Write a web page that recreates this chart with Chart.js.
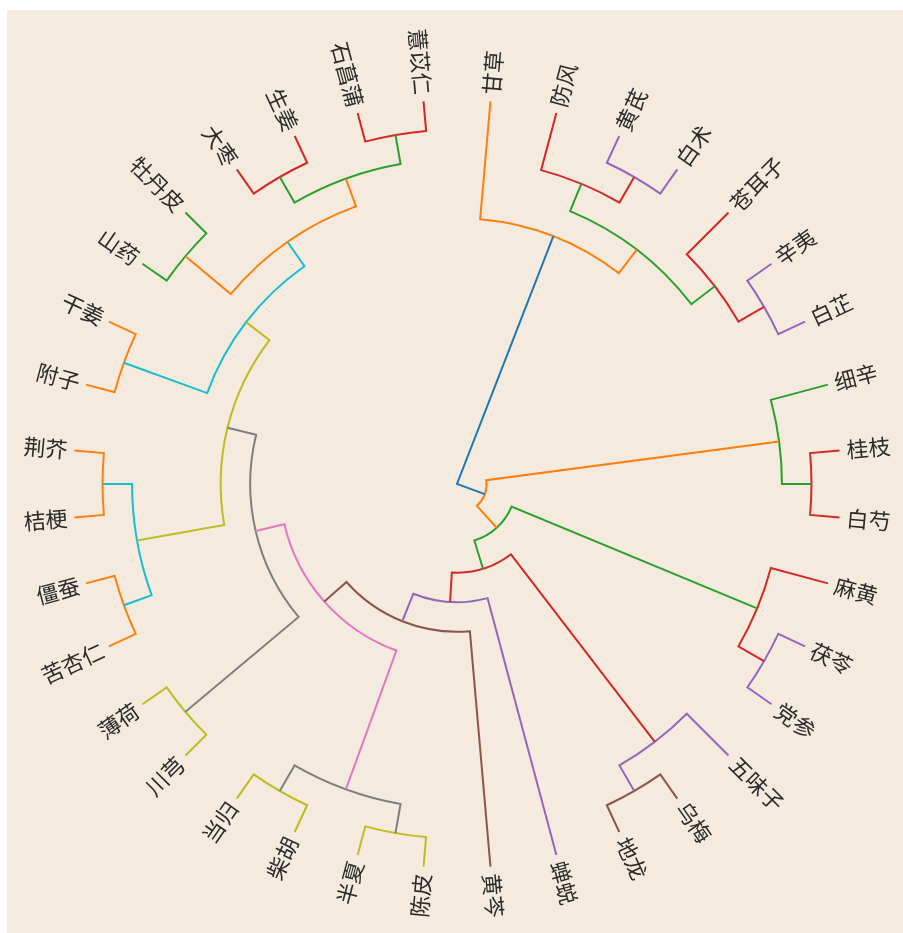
<!DOCTYPE html>
<html>
<head>
<meta charset="utf-8">
<script src="https://cdn.jsdelivr.net/npm/chart.js@4.4.1/dist/chart.umd.min.js"></script>
<style>
  html, body { margin: 0; padding: 0; background: #ffffff; }
  #wrap { position: relative; width: 903px; height: 933px; }
</style>
</head>
<body>
<div id="wrap"><canvas id="dendro"></canvas></div>
<script>
// Leaf order, clockwise from the top
const leafNames = ['甘草','防风','黄芪','白术','苍耳子','辛夷','白芷','细辛','桂枝','白芍',
  '麻黄','茯苓','党参','五味子','乌梅','地龙','蝉蜕','黄芩','陈皮','半夏','柴胡','当归',
  '川芎','薄荷','苦杏仁','僵蚕','桔梗','荆芥','附子','干姜','山药','牡丹皮','大枣','生姜',
  '石菖蒲','薏苡仁'];

// Merge k creates node (leafNames.length + k) from mergeLeft[k] and mergeRight[k]
const mergeLeft  = [2, 5, 8, 11, 14, 18, 20, 22, 24, 26, 28, 30, 32, 34,
                    1, 4, 7, 10, 13, 41, 44, 48,
                    50, 47,
                    0, 46,
                    56, 43, 55, 17, 16, 54, 53, 52, 60];
const mergeRight = [3, 6, 9, 12, 15, 19, 21, 23, 25, 27, 29, 31, 33, 35,
                    36, 37, 38, 39, 40, 42, 45, 49,
                    51, 57,
                    58, 59,
                    61, 62, 63, 64, 65, 66, 67, 68, 69];
const mergeHeight = [1, 1, 1, 1, 1, 1, 1, 1, 1, 1, 1, 1, 1, 1,
                     2, 2, 2, 2, 2, 2, 2, 2,
                     3, 3,
                     4, 4,
                     5, 6, 7, 8, 9, 10, 11, 12, 13];

// Branch colours by depth below the root
const branchColors = ['#1f77b4','#ff7f0e','#2ca02c','#d62728','#9467bd',
                      '#8c564b','#e377c2','#7f7f7f','#bcbd22','#17becf'];

const nLeaves = leafNames.length;
const nNodes = nLeaves + mergeLeft.length;

// angular position (in leaf-index units) and height of every node
const nodePos = new Array(nNodes).fill(0);
const nodeHeight = new Array(nNodes).fill(0);
for (let i = 0; i < nLeaves; i++) nodePos[i] = i;
mergeLeft.forEach((l, k) => {
  const id = nLeaves + k;
  nodePos[id] = (nodePos[l] + nodePos[mergeRight[k]]) / 2;
  nodeHeight[id] = mergeHeight[k];
});
// depth from the root, used for colouring
const nodeDepth = new Array(nNodes).fill(0);
for (let k = mergeLeft.length - 1; k >= 0; k--) {
  const d = nodeDepth[nLeaves + k] + 1;
  nodeDepth[mergeLeft[k]] = d;
  nodeDepth[mergeRight[k]] = d;
}
function colorForDepth(d) {
  return d === 0 ? branchColors[0] : branchColors[1 + (d - 1) % 9];
}

const backgroundPlugin = {
  id: 'paper',
  beforeDraw(chart) {
    const ctx = chart.ctx;
    ctx.save();
    ctx.fillStyle = '#ffffff';
    ctx.fillRect(0, 0, chart.width, chart.height);
    ctx.fillStyle = '#f4ebde';
    ctx.fillRect(7, 10, chart.width - 7, chart.height - 10);
    ctx.restore();
  }
};

const treePlugin = {
  id: 'circularTree',
  afterDatasetsDraw(chart) {
    const s = chart.scales.r;
    const ctx = chart.ctx;
    ctx.save();
    ctx.lineWidth = 2;
    ctx.lineJoin = 'miter';
    ctx.lineCap = 'butt';
    mergeLeft.forEach((l, k) => {
      const id = nLeaves + k;
      const r = mergeRight[k];
      const rNode = s.getDistanceFromCenterForValue(nodeHeight[id]);
      const rL = s.getDistanceFromCenterForValue(nodeHeight[l]);
      const rR = s.getDistanceFromCenterForValue(nodeHeight[r]);
      const outerL = s.getPointPosition(nodePos[l], rL);
      const innerL = s.getPointPosition(nodePos[l], rNode);
      const outerR = s.getPointPosition(nodePos[r], rR);
      const aL = s.getIndexAngle(nodePos[l]) - Math.PI / 2;
      const aR = s.getIndexAngle(nodePos[r]) - Math.PI / 2;
      ctx.strokeStyle = colorForDepth(nodeDepth[id]);
      ctx.beginPath();
      ctx.moveTo(outerL.x, outerL.y);
      ctx.lineTo(innerL.x, innerL.y);
      if (rNode > 0) ctx.arc(s.xCenter, s.yCenter, rNode, aL, aR, false);
      ctx.lineTo(outerR.x, outerR.y);
      ctx.stroke();
    });

    // leaf names, written along the radius
    ctx.font = '22px "Noto Sans CJK SC", sans-serif';
    ctx.fillStyle = '#2b2b2b';
    ctx.textBaseline = 'middle';
    leafNames.forEach((name, i) => {
      const theta = s.getIndexAngle(i);
      const p = s.getPointPosition(i, s.drawingArea + 7);
      ctx.save();
      ctx.translate(p.x, p.y);
      if (theta < Math.PI) {
        ctx.rotate(theta - Math.PI / 2);
        ctx.textAlign = 'left';
      } else {
        ctx.rotate(theta + Math.PI / 2);
        ctx.textAlign = 'right';
      }
      ctx.fillText(name, 0, 0);
      ctx.restore();
    });
    ctx.restore();
  }
};

new Chart(document.getElementById('dendro'), {
  type: 'radar',
  data: { labels: leafNames, datasets: [] },
  options: {
    responsive: true,
    maintainAspectRatio: false,
    animation: false,
    layout: { padding: { left: 73, right: 62, top: 100, bottom: 65 } },
    plugins: { legend: { display: false }, tooltip: { enabled: false } },
    scales: {
      r: {
        min: 0,
        max: 13,
        reverse: true,
        startAngle: 5,
        ticks: { display: false },
        grid: { display: false },
        angleLines: { display: false },
        pointLabels: { display: false }
      }
    }
  },
  plugins: [backgroundPlugin, treePlugin]
});
</script>
</body>
</html>
